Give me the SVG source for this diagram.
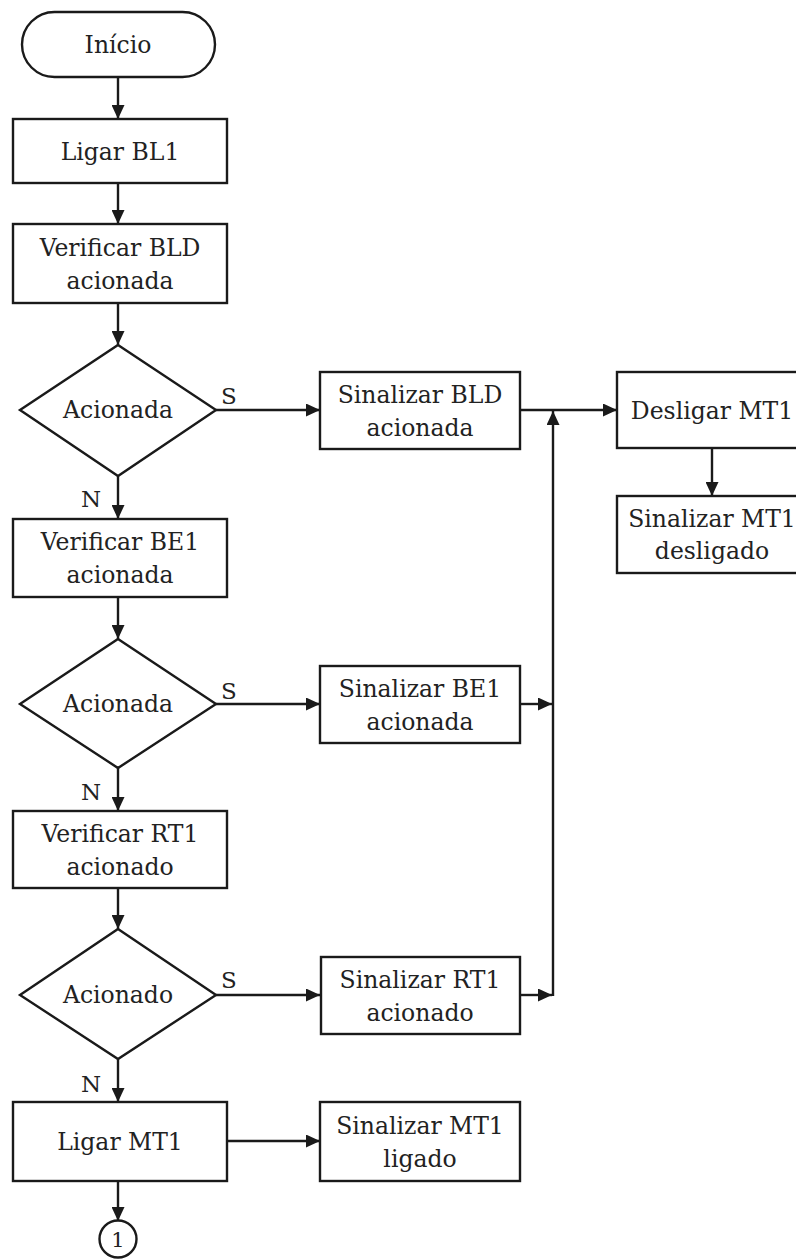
<svg xmlns="http://www.w3.org/2000/svg" width="796" height="1259" viewBox="0 0 796 1259">
<defs>
<marker id="arr" viewBox="0 0 14 13" refX="14" refY="6.5" markerWidth="14" markerHeight="13" markerUnits="userSpaceOnUse" orient="auto">
<path d="M0,0 L14,6.5 L0,13 z" fill="#1a1a1a"/>
</marker>
<style>
.n{fill:#fff;stroke:#1a1a1a;stroke-width:2.4}
.t{font-family:"DejaVu Serif","Liberation Serif",serif;font-size:23.5px;fill:#222;text-anchor:middle}
.l{font-family:"DejaVu Serif","Liberation Serif",serif;font-size:23px;fill:#222;text-anchor:middle}
.c{fill:none;stroke:#1a1a1a;stroke-width:2.4;marker-end:url(#arr)}
</style>
</defs>
<rect width="796" height="1259" fill="#fff"/>
<g id="connectors">
<line class="c" x1="118" y1="77" x2="118" y2="119"/>
<line class="c" x1="118" y1="183" x2="118" y2="224"/>
<line class="c" x1="118" y1="303" x2="118" y2="345"/>
<line class="c" x1="216" y1="410" x2="320" y2="410"/>
<line class="c" x1="520" y1="410" x2="617" y2="410"/>
<line class="c" x1="712" y1="448" x2="712" y2="496"/>
<line class="c" x1="118" y1="476" x2="118" y2="519"/>
<line class="c" x1="118" y1="597" x2="118" y2="639"/>
<line class="c" x1="216" y1="704" x2="320" y2="704"/>
<line class="c" x1="520" y1="704" x2="552" y2="704"/>
<line class="c" x1="118" y1="768" x2="118" y2="811"/>
<line class="c" x1="118" y1="888" x2="118" y2="929"/>
<line class="c" x1="216" y1="995" x2="320" y2="995"/>
<line class="c" x1="520" y1="995" x2="552" y2="995"/>
<line class="c" x1="553" y1="996" x2="553" y2="411"/>
<line class="c" x1="118" y1="1059" x2="118" y2="1102"/>
<line class="c" x1="227" y1="1141" x2="320" y2="1141"/>
<line class="c" x1="118" y1="1181" x2="118" y2="1221"/>
<text class="l" x="229" y="404">S</text>
<text class="l" x="91" y="507">N</text>
<text class="l" x="229" y="699">S</text>
<text class="l" x="91" y="800">N</text>
<text class="l" x="229" y="988">S</text>
<text class="l" x="91" y="1092">N</text>
</g>
<g id="inicio"><rect class="n" x="22" y="12" width="193" height="65" rx="32.5"/><text class="t" x="118" y="53">Início</text></g>
<g id="ligar-bl1"><rect class="n" x="13" y="119" width="214" height="64"/><text class="t" x="120" y="160">Ligar BL1</text></g>
<g id="verificar-bld"><rect class="n" x="13" y="224" width="214" height="79"/><text class="t" x="120" y="256">Verificar BLD</text><text class="t" x="120" y="289">acionada</text></g>
<g id="dec1"><polygon class="n" points="118,345 216,410 118,476 20,410"/><text class="t" x="118" y="418">Acionada</text></g>
<g id="sinalizar-bld"><rect class="n" x="320" y="372" width="200" height="77"/><text class="t" x="420" y="403">Sinalizar BLD</text><text class="t" x="420" y="436">acionada</text></g>
<g id="desligar-mt1"><rect class="n" x="617" y="372" width="192" height="76"/><text class="t" x="712" y="419">Desligar MT1</text></g>
<g id="sinalizar-mt1-desligado"><rect class="n" x="617" y="496" width="192" height="77"/><text class="t" x="712" y="527">Sinalizar MT1</text><text class="t" x="712" y="559">desligado</text></g>
<g id="verificar-be1"><rect class="n" x="13" y="519" width="214" height="78"/><text class="t" x="120" y="550">Verificar BE1</text><text class="t" x="120" y="583">acionada</text></g>
<g id="dec2"><polygon class="n" points="118,639 216,704 118,768 20,704"/><text class="t" x="118" y="712">Acionada</text></g>
<g id="sinalizar-be1"><rect class="n" x="320" y="666" width="200" height="77"/><text class="t" x="420" y="697">Sinalizar BE1</text><text class="t" x="420" y="730">acionada</text></g>
<g id="verificar-rt1"><rect class="n" x="13" y="811" width="214" height="77"/><text class="t" x="120" y="842">Verificar RT1</text><text class="t" x="120" y="875">acionado</text></g>
<g id="dec3"><polygon class="n" points="118,929 216,995 118,1059 20,995"/><text class="t" x="118" y="1003">Acionado</text></g>
<g id="sinalizar-rt1"><rect class="n" x="321" y="957" width="199" height="77"/><text class="t" x="420" y="988">Sinalizar RT1</text><text class="t" x="420" y="1021">acionado</text></g>
<g id="ligar-mt1"><rect class="n" x="13" y="1102" width="214" height="79"/><text class="t" x="120" y="1150">Ligar MT1</text></g>
<g id="sinalizar-mt1-ligado"><rect class="n" x="320" y="1102" width="200" height="79"/><text class="t" x="420" y="1134">Sinalizar MT1</text><text class="t" x="420" y="1167">ligado</text></g>
<g id="conector-1"><circle class="n" cx="118" cy="1239" r="18.5"/><text class="t" x="118" y="1247" style="font-size:21px">1</text></g>
</svg>
